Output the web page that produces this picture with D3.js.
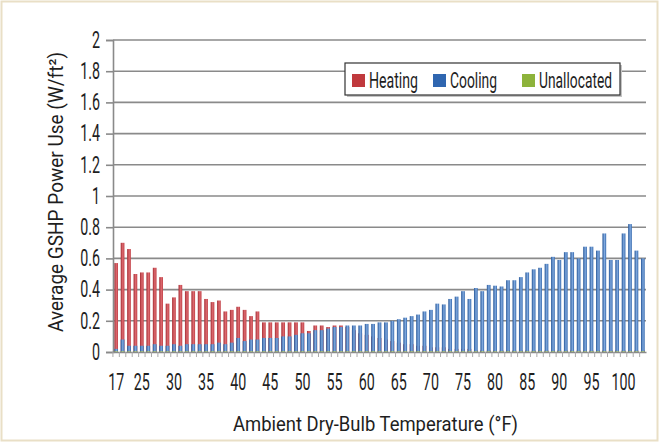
<!DOCTYPE html>
<html><head><meta charset="utf-8">
<script src="https://cdn.jsdelivr.net/npm/d3@7"></script>
<style>
html,body{margin:0;padding:0;background:#fff;}
svg text{font-family:Roboto,"Liberation Sans",sans-serif;font-weight:400;fill:#1e1e1e;}
</style></head>
<body><svg id="c" width="659" height="442"></svg>
<script>
const categories = [17,19,21,23,25,26,27,28,29,30,31,32,33,34,35,36,37,38,39,40,41,42,43,44,45,46,47,48,49,50,51,52,53,54,55,56,57,58,59,60,61,62,63,64,65,66,67,68,69,70,71,72,73,74,75,76,77,78,79,80,81,82,83,84,85,86,87,88,89,90,91,92,93,94,95,96,97,98,99,100,101,102,103];
const heating = [0.57,0.70,0.66,0.50,0.51,0.51,0.54,0.48,0.31,0.35,0.43,0.39,0.39,0.39,0.34,0.32,0.33,0.26,0.27,0.29,0.27,0.23,0.26,0.19,0.19,0.19,0.19,0.19,0.19,0.19,0.135,0.17,0.17,0.16,0.17,0.17,0.16,0.14,0.12,0.11,0.10,0.09,0.08,0.07,0.06,0.05,0.05,0.04,0.04,0.03,0.03,0.03,0.02,0.02,0.02,0.02,0.01,0.01,0.01,0.01,0.01,0.01,0.01,0.01,0.01,0.01,0.01,0.01,0.01,0.01,0.01,0.01,0.01,0.01,0.01,0.01,0.01,0.01,0.01,0.01,0.01,0.01,0.01];
const cooling = [0.02,0.08,0.04,0.04,0.04,0.04,0.05,0.04,0.04,0.05,0.04,0.05,0.05,0.05,0.05,0.05,0.06,0.05,0.06,0.09,0.07,0.08,0.08,0.09,0.09,0.09,0.10,0.10,0.11,0.12,0.12,0.14,0.14,0.15,0.16,0.16,0.17,0.17,0.17,0.18,0.18,0.19,0.19,0.20,0.21,0.22,0.23,0.24,0.26,0.27,0.31,0.305,0.34,0.355,0.39,0.34,0.41,0.39,0.43,0.425,0.42,0.46,0.46,0.48,0.51,0.53,0.54,0.565,0.61,0.59,0.64,0.64,0.60,0.675,0.675,0.65,0.76,0.59,0.59,0.76,0.82,0.65,0.60];
const unallocated = categories.map(() => 0.005);
const yTicks = [0,0.2,0.4,0.6,0.8,1,1.2,1.4,1.6,1.8,2];
const xTickLabels = [17,25,30,35,40,45,50,55,60,65,70,75,80,85,90,95,100];
const seriesNames = ["Heating","Cooling","Unallocated"];
const seriesColors = ["#c0393d","#2f66b0","#8db33b"];

const svg = d3.select("#c");
const L = 113, R = 646, T = 40, B = 352;
const x = d3.scaleBand().domain(categories).range([L, R]).paddingInner(0.42).paddingOuter(0.2);
const y = d3.scaleLinear().domain([0,2]).range([B, T]);

function condense(sel, f){
  sel.each(function(){
    const w = this.getComputedTextLength();
    d3.select(this).attr("textLength", w*f).attr("lengthAdjust","spacingAndGlyphs");
  });
}
function fitWidth(sel, w){
  sel.attr("textLength", w).attr("lengthAdjust","spacingAndGlyphs");
}

// frame
svg.append("rect").attr("x",1.5).attr("y",1.5).attr("width",656).attr("height",439)
  .attr("fill","#fff").attr("stroke","#e9dfc6").attr("stroke-width",2);

const defs = svg.append("defs");
function grad(id, c1, c2, c3){
  const g = defs.append("linearGradient").attr("id",id).attr("x1","0").attr("x2","1").attr("y1","0").attr("y2","0");
  g.append("stop").attr("offset","0").attr("stop-color",c1);
  g.append("stop").attr("offset","0.55").attr("stop-color",c2);
  g.append("stop").attr("offset","1").attr("stop-color",c3);
}
grad("gH","#a52c33","#dc6a70","#c13f45");
grad("gC","#245597","#80a9de","#3468ad");
grad("gU","#7a9e30","#c2dc8a","#8db33b");

// gridlines
svg.append("g").selectAll("line").data(yTicks.slice(1)).join("line")
  .attr("x1",L).attr("x2",R).attr("y1",d=>y(d)).attr("y2",d=>y(d))
  .attr("stroke","#8a8a8a").attr("stroke-width",1.6);

// bars (overlapping series)
const bars = svg.append("g");
[[heating,"url(#gH)"],[cooling,"url(#gC)"],[unallocated,"url(#gU)"]].forEach(([vals,fill])=>{
  bars.append("g").selectAll("rect").data(categories).join("rect")
    .attr("x",d=>x(d)).attr("width",x.bandwidth())
    .attr("y",(d,i)=>y(vals[i])).attr("height",(d,i)=>B - y(vals[i]))
    .attr("fill",fill);
});

// y axis
const yAxis = d3.axisLeft(y).tickValues(yTicks).tickSize(7).tickPadding(6).tickFormat(d3.format("~g"));
const gy = svg.append("g").attr("transform",`translate(${L},0)`).call(yAxis);
gy.select(".domain").attr("stroke","#8a8a8a").attr("stroke-width",1.6);
gy.selectAll(".tick line").attr("stroke","#8a8a8a").attr("stroke-width",1.6);
gy.selectAll(".tick text").attr("font-size",23).attr("fill","#1e1e1e").attr("font-family","Roboto,sans-serif").attr("font-weight",300);
condense(gy.selectAll(".tick text"), 0.62);

// x axis
const xAxis = d3.axisBottom(x).tickValues(xTickLabels).tickSize(0).tickPadding(22);
const gx = svg.append("g").attr("transform",`translate(0,${B})`).call(xAxis);
gx.select(".domain").attr("stroke","#8a8a8a").attr("stroke-width",1.6);
gx.selectAll(".tick text").attr("font-size",23).attr("fill","#1e1e1e").attr("font-family","Roboto,sans-serif").attr("font-weight",300);
condense(gx.selectAll(".tick text"), 0.62);
// category boundary ticks
svg.append("g").selectAll("line").data(categories).join("line")
  .attr("x1",d=>x(d)-x.step()*x.paddingInner()/2).attr("x2",d=>x(d)-x.step()*x.paddingInner()/2)
  .attr("y1",B).attr("y2",B+5).attr("stroke","#aaa").attr("stroke-width",1);

// axis titles
fitWidth(svg.append("text").attr("x",375.5).attr("y",431).attr("text-anchor","middle").attr("font-size",20)
  .text("Ambient Dry-Bulb Temperature (°F)"), 285);
fitWidth(svg.append("text").attr("transform","translate(63,192) rotate(-90)").attr("text-anchor","middle").attr("font-size",20)
  .text("Average GSHP Power Use (W/ft²)"), 280);

// legend
const lg = svg.append("g");
lg.append("rect").attr("x",347).attr("y",65).attr("width",275).attr("height",32).attr("fill","#c4c4c4");
lg.append("rect").attr("x",345).attr("y",63).attr("width",275).attr("height",32).attr("fill","#fff").attr("stroke","#333").attr("stroke-width",1.2);
const lx = [352,433,522];
const lw = [49,47,73];
seriesNames.forEach((n,i)=>{
  lg.append("rect").attr("x",lx[i]).attr("y",74).attr("width",13).attr("height",13).attr("fill",seriesColors[i]);
  fitWidth(lg.append("text").attr("x",lx[i]+17).attr("y",88).attr("font-size",22).attr("font-weight",300).text(n), lw[i]);
});
</script></body></html>
